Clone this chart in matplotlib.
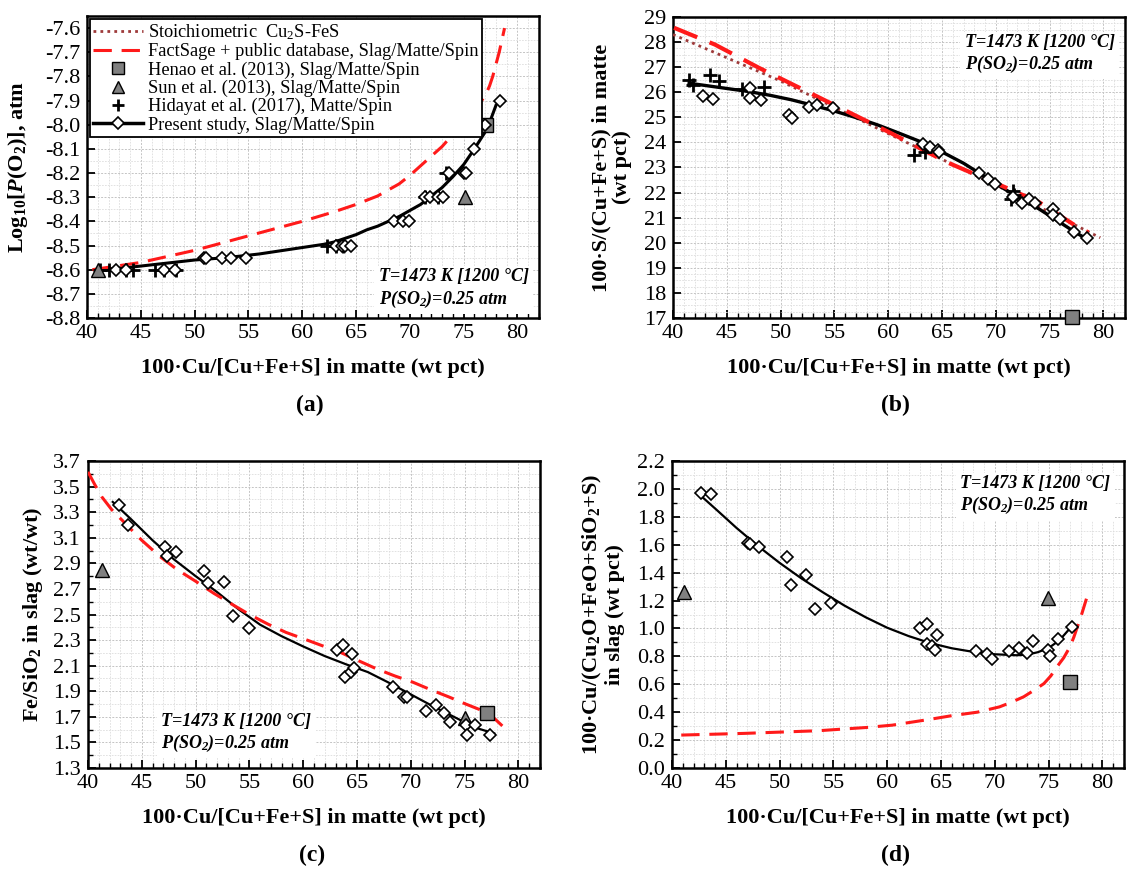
import numpy as np
import matplotlib
matplotlib.use('Agg')
import matplotlib.pyplot as plt
from matplotlib.ticker import MultipleLocator, FormatStrFormatter

plt.rcParams['font.family'] = ['Liberation Serif', 'DejaVu Serif']
plt.rcParams['mathtext.fontset'] = 'custom'
plt.rcParams['mathtext.rm'] = 'Liberation Serif'
plt.rcParams['mathtext.it'] = 'Liberation Serif:italic'
plt.rcParams['mathtext.bf'] = 'Liberation Serif:bold'
plt.rcParams['mathtext.bfit'] = 'Liberation Serif:italic:bold'
plt.rcParams['axes.unicode_minus'] = False

# --- (a) log10 P(O2) ---
a_present_x = [42.7, 43.6, 47.2, 48.2, 50.9, 51.1, 52.5, 53.4, 54.8, 63.1, 63.7, 64.0, 64.5,
               68.5, 69.4, 69.9, 71.4, 71.9, 72.6, 73.1, 73.6, 75.0, 75.2, 76.0, 77.0, 78.4]
a_present_y = [-8.6, -8.6, -8.6, -8.6, -8.55, -8.55, -8.55, -8.55, -8.55, -8.5, -8.5, -8.5, -8.5,
               -8.4, -8.4, -8.4, -8.3, -8.3, -8.3, -8.3, -8.2, -8.2, -8.2, -8.1, -8.0, -7.9]
a_hidayat_x = [41.2, 42.0, 43.6, 44.3, 46.3, 47.2, 48.3, 62.3, 63.1, 63.8, 71.4, 72.6, 73.4, 77.1]
a_hidayat_y = [-8.6, -8.6, -8.6, -8.6, -8.6, -8.6, -8.6, -8.5, -8.5, -8.5, -8.3, -8.3, -8.2, -8.0]
a_henao_x, a_henao_y = [77.1], [-8.0]
a_sun_x, a_sun_y = [41.05, 75.1], [-8.6, -8.3]
a_fit_x = [41.2, 44, 47, 50, 53, 56, 59, 62, 63, 64, 65, 66, 67, 68, 69, 70, 71, 72, 73, 74, 75,
           76, 77, 77.5, 78.0]
a_fit_y = [-8.60, -8.59, -8.575, -8.56, -8.55, -8.535, -8.515, -8.495, -8.485, -8.47, -8.455,
           -8.435, -8.42, -8.40, -8.38, -8.355, -8.33, -8.295, -8.26, -8.215, -8.165, -8.10,
           -8.03, -7.98, -7.92]
a_fs_x = [40.5, 45, 50, 55, 60, 63, 65, 67, 68, 69, 70, 71, 72, 73, 74, 75, 76, 76.5, 77, 77.4,
          77.7, 78.0, 78.3, 78.6, 78.8]
a_fs_y = [-8.60, -8.57, -8.52, -8.46, -8.40, -8.36, -8.33, -8.295, -8.27, -8.245, -8.21, -8.17,
          -8.13, -8.09, -8.04, -7.98, -7.93, -7.91, -7.88, -7.84, -7.80, -7.75, -7.70, -7.64,
          -7.60]

# --- (b) S in matte ---
b_present_x = [42.8, 43.7, 47.2, 47.2, 48.2, 50.8, 51.1, 52.6, 53.4, 54.9, 63.2, 63.9, 64.6, 64.7,
               68.4, 69.3, 69.9, 71.6, 72.4, 73.1, 73.6, 75.3, 75.3, 76.0, 77.3, 78.5]
b_present_y = [25.86, 25.74, 26.16, 25.79, 25.70, 25.09, 24.99, 25.43, 25.50, 25.36, 23.92, 23.82,
               23.69, 23.62, 22.79, 22.55, 22.35, 21.82, 21.59, 21.75, 21.59, 21.35, 21.11, 20.95,
               20.41, 20.17]
b_hidayat_x = [41.5, 41.9, 43.4, 44.3, 46.4, 48.5, 62.4, 63.4, 71.6, 71.4, 71.7]
b_hidayat_y = [26.50, 26.27, 26.67, 26.46, 26.14, 26.19, 23.49, 23.60, 22.08, 21.75, 21.90]
b_henao_x, b_henao_y = [77.1], [17.05]
b_fit_x = [41.5, 43, 45, 47, 49, 51, 53, 55, 57, 59, 61, 63, 65, 67, 69, 70.5, 72, 74, 76, 77.4,
           78.5]
b_fit_y = [26.36, 26.27, 26.15, 26.03, 25.88, 25.70, 25.48, 25.25, 24.99, 24.70, 24.37, 24.03,
           23.62, 23.17, 22.63, 22.22, 21.83, 21.35, 20.80, 20.41, 20.14]
b_fs_x = [40.1, 43.9, 48.0, 53.4, 60.3, 65.4, 70.5, 74.0, 77.4, 78.6]
b_fs_y = [28.57, 27.90, 26.97, 25.83, 24.36, 23.22, 22.28, 21.62, 20.68, 20.41]
b_st_x = [40.0, 50.0, 60.0, 70.0, 79.7]
b_st_y = [28.30, 26.45, 24.35, 22.30, 20.20]

# --- (c) Fe/SiO2 in slag ---
c_present_x = [42.86, 43.70, 47.16, 47.33, 48.17, 50.76, 51.19, 52.61, 53.45, 54.96, 63.13, 63.73,
               63.87, 64.40, 64.54, 64.74, 68.34, 69.34, 69.68, 71.43, 72.37, 73.11, 73.61, 75.13,
               75.23, 75.97, 77.31]
c_present_y = [3.356, 3.20, 3.027, 2.955, 2.986, 2.843, 2.748, 2.755, 2.489, 2.393, 2.222, 2.263,
               2.010, 2.049, 2.191, 2.080, 1.932, 1.855, 1.855, 1.746, 1.795, 1.733, 1.661, 1.640,
               1.557, 1.640, 1.557]
c_sun_x, c_sun_y = [41.28, 75.06], [2.851, 1.692]
c_henao_x, c_henao_y = [77.08], [1.733]
c_fit_x = [42.3, 44, 46, 48, 50, 52, 54, 56, 58, 60, 62, 64, 66, 68, 70, 72, 74, 76, 77.75]
c_fit_y = [3.38, 3.245, 3.08, 2.93, 2.80, 2.675, 2.54, 2.42, 2.33, 2.25, 2.175, 2.11, 2.05, 1.965,
           1.875, 1.785, 1.70, 1.615, 1.57]
c_fs_x = [40.0, 40.6, 41.28, 42.2, 43.3, 45, 46.66, 48.3, 50.0, 51.7, 53.38, 55, 56.74, 58.4,
          60.1, 61.8, 63.46, 65.1, 66.82, 68.5, 70.18, 71.9, 73.55, 75.1, 76.57, 77.6, 78.59]
c_fs_y = [3.615, 3.52, 3.42, 3.32, 3.226, 3.08, 2.955, 2.85, 2.76, 2.665, 2.58, 2.50, 2.424, 2.36,
          2.308, 2.255, 2.204, 2.14, 2.075, 2.02, 1.971, 1.91, 1.855, 1.80, 1.751, 1.70, 1.622]

# --- (d) Cu in slag ---
d_present_x = [42.68, 43.61, 47.05, 47.22, 48.08, 50.66, 51.07, 52.48, 53.31, 54.79, 63.04, 63.66,
               63.73, 64.17, 64.42, 64.59, 68.27, 69.23, 69.75, 71.29, 72.26, 73.01, 73.53, 74.9,
               75.14, 75.83, 77.14]
d_present_y = [1.971, 1.964, 1.611, 1.607, 1.583, 1.511, 1.309, 1.380, 1.142, 1.182, 1.006, 1.034,
               0.891, 0.872, 0.844, 0.956, 0.839, 0.815, 0.779, 0.839, 0.863, 0.825, 0.910, 0.844,
               0.801, 0.927, 1.010]
d_sun_x, d_sun_y = [41.13, 74.97], [1.261, 1.220]
d_henao_x, d_henao_y = [76.97], [0.617]
d_fit_x = [42.4, 44, 46, 48, 50, 52, 54, 56, 58, 60, 62, 64, 66, 68, 70, 72, 73, 74, 75, 76,
           77.14]
d_fit_y = [1.97, 1.86, 1.72, 1.59, 1.47, 1.36, 1.26, 1.165, 1.08, 1.005, 0.945, 0.895, 0.858,
           0.832, 0.815, 0.808, 0.812, 0.83, 0.86, 0.915, 1.015]
d_fs_x = [40.86, 46.7, 53.58, 58.0, 60.46, 63.9, 66.0, 68.37, 70.43, 71.5, 72.67, 73.7, 74.56,
          75.2, 75.76, 76.4, 76.97, 77.35, 77.66, 78.1, 78.51]
d_fs_y = [0.236, 0.248, 0.267, 0.29, 0.307, 0.348, 0.375, 0.40, 0.438, 0.47, 0.51, 0.56, 0.605,
          0.66, 0.724, 0.79, 0.867, 0.94, 1.01, 1.11, 1.213]

FS_STYLE = dict(color='#ff1a1a', lw=2.2, ls=(0, (6, 3.2)))
ST_STYLE = dict(color='#9e3a3a', lw=2.0, ls=(0, (1, 1.5)))
PRES = dict(ls='none', marker='D', ms=6, mfc='white', mec='black', mew=1.2)
HEN = dict(ls='none', marker='s', ms=10, mfc='#808080', mec='black', mew=1.0)
SUN = dict(ls='none', marker='^', ms=10, mfc='#808080', mec='black', mew=1.0)
HID = dict(ls='none', marker='+', ms=10, mec='black', mew=2.0)

ANNOT = 'T=1473 K [1200 °C]\nP(SO$_{\\mathbfit{2}}$)=0.25 atm'
XLABEL = '100·Cu/[Cu+Fe+S] in matte (wt pct)'


def style_axes(ax, yticks, yminor, fmt, ylabel, ylabel_x):
    ax.set_xlim(40, 82)
    ax.set_ylim(yticks[0], yticks[-1])
    ax.xaxis.set_major_locator(MultipleLocator(5))
    ax.xaxis.set_minor_locator(MultipleLocator(1))
    ax.set_yticks(yticks)
    ax.set_yticks(yminor, minor=True)
    ax.yaxis.set_major_formatter(FormatStrFormatter(fmt))
    ax.grid(which='major', color='#c4c4c4', ls=(0, (2, 1.5)), lw=0.7)
    ax.grid(which='minor', color='#dddddd', ls=(0, (2, 1.5)), lw=0.6)
    ax.set_axisbelow(True)
    ax.tick_params(which='both', direction='in', labelsize=16)
    ax.tick_params(which='major', length=6, width=1.3)
    ax.tick_params(which='minor', length=3.5, width=1.0)
    ax.tick_params(axis='y', pad=5)
    ax.tick_params(axis='x', pad=4)
    for s in ax.spines.values():
        s.set_linewidth(1.8)
    ax.set_xlabel(XLABEL, fontsize=16, fontweight='bold', labelpad=11)
    ax.set_ylabel(ylabel, fontsize=16, fontweight='bold', linespacing=1.05)
    ax.yaxis.set_label_coords(ylabel_x, 0.5)


def annotate(ax, x, y):
    ax.text(x, y, ANNOT, fontsize=13, fontweight='bold', style='italic', ha='left', va='center',
            linespacing=1.2, bbox=dict(fc='white', ec='none', pad=3))


fig = plt.figure(figsize=(11.4, 8.71), dpi=100)
W, H = 1140, 871


def px_axes(left, top, right, bottom):
    return fig.add_axes([left / W, 1 - bottom / H, (right - left) / W, (bottom - top) / H])


ax_a = px_axes(87, 16, 539, 318)
ax_b = px_axes(673, 17, 1125, 318)
ax_c = px_axes(88, 461, 540, 768)
ax_d = px_axes(672, 461, 1124, 768)

# (a)
ax_a.plot(a_fit_x, a_fit_y, color='black', lw=2.2, zorder=3)
ax_a.plot(a_fs_x, a_fs_y, zorder=3, **FS_STYLE)
ax_a.plot(a_hidayat_x, a_hidayat_y, zorder=4, **HID)
ax_a.plot(a_present_x, a_present_y, zorder=5, **PRES)
ax_a.plot(a_henao_x, a_henao_y, zorder=4, **HEN)
ax_a.plot(a_sun_x, a_sun_y, zorder=4, clip_on=False, **SUN)
style_axes(ax_a, np.round(np.arange(-8.8, -7.55, 0.1), 2), np.round(np.arange(-8.8, -7.55, 0.05), 3),
           '%.1f', 'Log$_{\\mathbf{10}}$[$\\mathbfit{P}$(O$_{\\mathbf{2}}$)], atm', -0.125)
ax_a.tick_params(axis='y', which='minor', length=0)
annotate(ax_a, 67.1, -8.68)

h_st, = ax_a.plot([], [], label='Stoichiometric  Cu$_{2}$S-FeS', **ST_STYLE)
h_fs, = ax_a.plot([], [], label='FactSage + public database, Slag/Matte/Spin', **FS_STYLE)
h_he, = ax_a.plot([], [], label='Henao et al. (2013), Slag/Matte/Spin', **dict(HEN, ms=8))
h_su, = ax_a.plot([], [], label='Sun et al. (2013), Slag/Matte/Spin', **dict(SUN, ms=8))
h_hi, = ax_a.plot([], [], label='Hidayat et al. (2017), Matte/Spin', **dict(HID, ms=8))
h_pr, = ax_a.plot([], [], label='Present study, Slag/Matte/Spin', color='black', lw=2.5,
                  marker='D', ms=6, mfc='white', mec='black', mew=1.2)
leg = ax_a.legend(handles=[h_st, h_fs, h_he, h_su, h_hi, h_pr], loc='upper left',
                  bbox_to_anchor=(0.0, 1.0), fontsize=13.2, fancybox=False, framealpha=1,
                  edgecolor='black', borderaxespad=0.15, labelspacing=0.06, handlelength=2.7,
                  handletextpad=0.25, borderpad=0.2)
leg.get_frame().set_linewidth(1.3)
leg.set_zorder(10)

# (b)
ax_b.plot(b_st_x, b_st_y, zorder=3, **ST_STYLE)
ax_b.plot(b_fit_x, b_fit_y, color='black', lw=2.4, zorder=3)
ax_b.plot(b_fs_x, b_fs_y, zorder=3, **dict(FS_STYLE, lw=3.0))
ax_b.plot(b_hidayat_x, b_hidayat_y, zorder=4, **HID)
ax_b.plot(b_present_x, b_present_y, zorder=5, **PRES)
ax_b.plot(b_henao_x, b_henao_y, zorder=6, clip_on=False, **HEN)
style_axes(ax_b, np.arange(17, 29.5, 1), np.arange(17, 29.1, 0.25), '%d',
           '100·S/(Cu+Fe+S) in matte\n(wt pct)', -0.091)
ax_b.tick_params(axis='y', which='minor', length=0)
annotate(ax_b, 67.1, 27.5)

# (c)
ax_c.plot(c_fit_x, c_fit_y, color='black', lw=1.6, zorder=3)
ax_c.plot(c_fs_x, c_fs_y, zorder=3, **FS_STYLE)
ax_c.plot(c_present_x, c_present_y, zorder=5, **PRES)
ax_c.plot(c_sun_x, c_sun_y, zorder=4, **SUN)
ax_c.plot(c_henao_x, c_henao_y, zorder=4, **HEN)
style_axes(ax_c, np.round(np.arange(1.3, 3.75, 0.2), 2), np.round(np.arange(1.3, 3.71, 0.1), 2),
           '%.1f', 'Fe/SiO$_{\\mathbf{2}}$ in slag (wt/wt)', -0.095)
annotate(ax_c, 46.8, 1.57)

# (d)
ax_d.plot(d_fit_x, d_fit_y, color='black', lw=1.6, zorder=3)
ax_d.plot(d_fs_x, d_fs_y, zorder=3, **FS_STYLE)
ax_d.plot(d_present_x, d_present_y, zorder=5, **PRES)
ax_d.plot(d_sun_x, d_sun_y, zorder=4, **SUN)
ax_d.plot(d_henao_x, d_henao_y, zorder=4, **HEN)
style_axes(ax_d, np.round(np.arange(0.0, 2.25, 0.2), 2), np.round(np.arange(0.0, 2.21, 0.1), 2),
           '%.1f', '100·Cu/(Cu$_{\\mathbf{2}}$O+FeO+SiO$_{\\mathbf{2}}$+S)\nin slag (wt pct)', -0.104)
annotate(ax_d, 66.8, 1.95)

for label, xc, yc in [('(a)', 310, 405), ('(b)', 895, 405), ('(c)', 312, 855), ('(d)', 895, 855)]:
    fig.text(xc / W, 1 - yc / H, label, ha='center', va='center', fontsize=17, fontweight='bold')

fig.savefig('out.png', dpi=100)
